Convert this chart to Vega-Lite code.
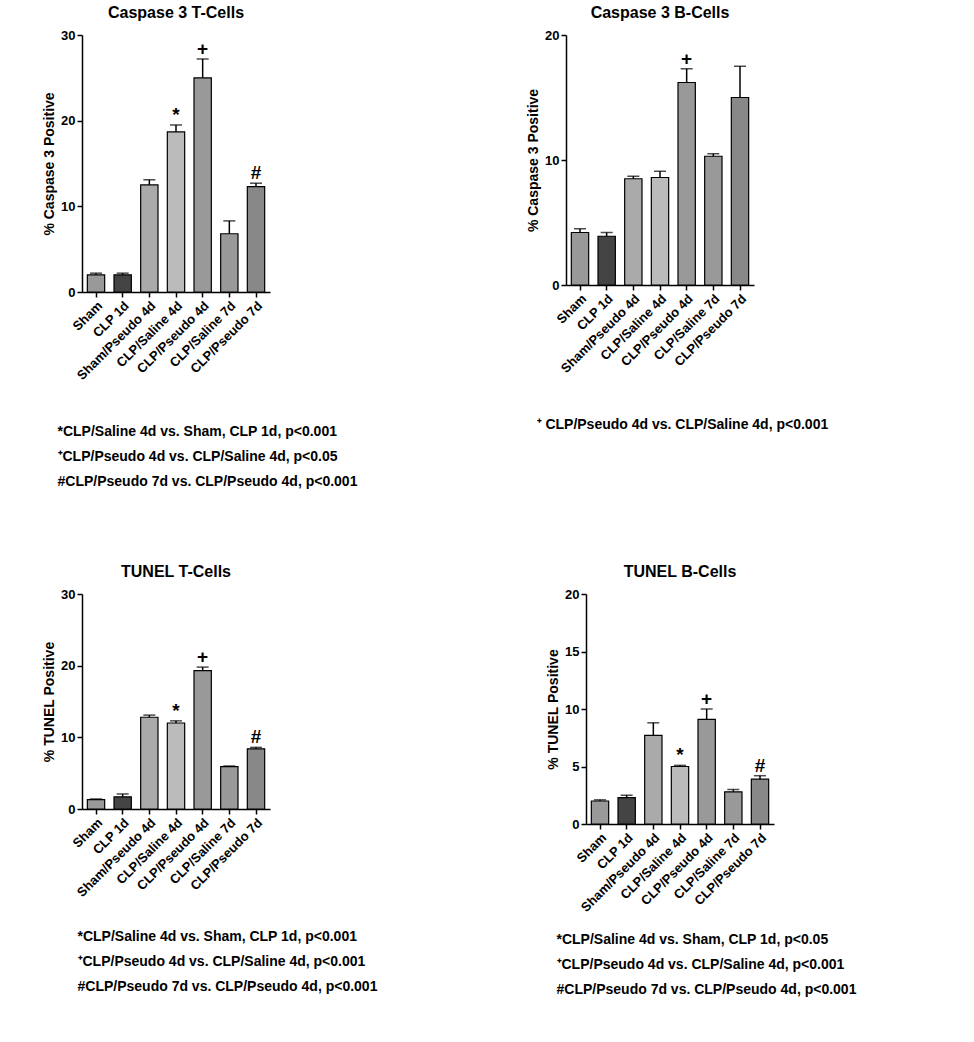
{
"$schema":"https://vega.github.io/schema/vega-lite/v6.json",
"background":"white",
"padding":{"left":42,"top":5,"right":10,"bottom":10},
"config":{"font":"Liberation Sans","view":{"stroke":null},
 "axis":{"labelFont":"Liberation Sans","titleFont":"Liberation Sans","labelFontWeight":"bold","titleFontWeight":"bold","labelColor":"black","titleColor":"black","domainColor":"black","tickColor":"black","grid":false,"labelFontSize":13,"titleFontSize":14,"domainWidth":1.5,"tickWidth":1.5},
 "title":{"font":"Liberation Sans","fontSize":16,"fontWeight":"bold","color":"black","offset":8}},
"data":{"values":[
{"p":"CT","g":"Sham","v":2,"hi":2.2,"s":""},
{"p":"CT","g":"CLP 1d","v":2,"hi":2.2,"s":""},
{"p":"CT","g":"Sham/Pseudo 4d","v":12.5,"hi":13.1,"s":""},
{"p":"CT","g":"CLP/Saline 4d","v":18.7,"hi":19.5,"s":"*"},
{"p":"CT","g":"CLP/Pseudo 4d","v":25,"hi":27.2,"s":"+"},
{"p":"CT","g":"CLP/Saline 7d","v":6.8,"hi":8.3,"s":""},
{"p":"CT","g":"CLP/Pseudo 7d","v":12.3,"hi":12.7,"s":"#"},
{"p":"CB","g":"Sham","v":4.2,"hi":4.5,"s":""},
{"p":"CB","g":"CLP 1d","v":3.9,"hi":4.2,"s":""},
{"p":"CB","g":"Sham/Pseudo 4d","v":8.5,"hi":8.7,"s":""},
{"p":"CB","g":"CLP/Saline 4d","v":8.6,"hi":9.1,"s":""},
{"p":"CB","g":"CLP/Pseudo 4d","v":16.2,"hi":17.3,"s":"+"},
{"p":"CB","g":"CLP/Saline 7d","v":10.3,"hi":10.5,"s":""},
{"p":"CB","g":"CLP/Pseudo 7d","v":15,"hi":17.5,"s":""},
{"p":"TT","g":"Sham","v":1.3,"hi":1.4,"s":""},
{"p":"TT","g":"CLP 1d","v":1.7,"hi":2.1,"s":""},
{"p":"TT","g":"Sham/Pseudo 4d","v":12.8,"hi":13.1,"s":""},
{"p":"TT","g":"CLP/Saline 4d","v":12,"hi":12.3,"s":"*"},
{"p":"TT","g":"CLP/Pseudo 4d","v":19.3,"hi":19.8,"s":"+"},
{"p":"TT","g":"CLP/Saline 7d","v":5.9,"hi":6,"s":""},
{"p":"TT","g":"CLP/Pseudo 7d","v":8.4,"hi":8.6,"s":"#"},
{"p":"TB","g":"Sham","v":2,"hi":2.1,"s":""},
{"p":"TB","g":"CLP 1d","v":2.3,"hi":2.5,"s":""},
{"p":"TB","g":"Sham/Pseudo 4d","v":7.7,"hi":8.8,"s":""},
{"p":"TB","g":"CLP/Saline 4d","v":5,"hi":5.1,"s":"*"},
{"p":"TB","g":"CLP/Pseudo 4d","v":9.1,"hi":10,"s":"+"},
{"p":"TB","g":"CLP/Saline 7d","v":2.8,"hi":3,"s":""},
{"p":"TB","g":"CLP/Pseudo 7d","v":3.9,"hi":4.2,"s":"#"}
]},
"vconcat":[
{"hconcat":[
{"width":188,"height":257,"title":"Caspase 3 T-Cells","transform":[{"filter":"datum.p=='CT'"}],
 "encoding":{"x":{"field":"g","type":"nominal","sort":["Sham","CLP 1d","Sham/Pseudo 4d","CLP/Saline 4d","CLP/Pseudo 4d","CLP/Saline 7d","CLP/Pseudo 7d"],"scale":{"paddingInner":0.35,"paddingOuter":0.2},"axis":{"labelAngle":-45,"titleAnchor":"start","titleAlign":"left","titleX":-25,"titlePadding":42,"titleLineHeight":25,"title":["*CLP/Saline 4d vs. Sham, CLP 1d,  p<0.001","⁺CLP/Pseudo 4d vs. CLP/Saline 4d,  p<0.05","#CLP/Pseudo 7d vs. CLP/Pseudo 4d,  p<0.001"]}}},
 "layer":[
 {"mark":{"type":"bar","stroke":"black","strokeWidth":1.2},"encoding":{"y":{"field":"v","type":"quantitative","scale":{"domain":[0,30]},"axis":{"values":[0,10,20,30],"title":"% Caspase 3 Positive"}},"fill":{"field":"g","type":"nominal","legend":null,"scale":{"domain":["Sham","CLP 1d","Sham/Pseudo 4d","CLP/Saline 4d","CLP/Pseudo 4d","CLP/Saline 7d","CLP/Pseudo 7d"],"range":["#999","#444","#aaa","#bbb","#999","#999","#888"]}}}},
 {"mark":{"type":"rule","strokeWidth":1.5},"encoding":{"y":{"field":"v","type":"quantitative"},"y2":{"field":"hi"}}},
 {"mark":{"type":"tick","size":12,"thickness":1.5,"color":"black"},"encoding":{"y":{"field":"hi","type":"quantitative"}}},
 {"mark":{"type":"text","dy":-10,"fontSize":19,"fontWeight":"bold"},"encoding":{"y":{"field":"hi","type":"quantitative"},"text":{"field":"s"}}}]},
{"width":188,"height":250,"title":"Caspase 3 B-Cells","transform":[{"filter":"datum.p=='CB'"}],
 "encoding":{"x":{"field":"g","type":"nominal","sort":["Sham","CLP 1d","Sham/Pseudo 4d","CLP/Saline 4d","CLP/Pseudo 4d","CLP/Saline 7d","CLP/Pseudo 7d"],"scale":{"paddingInner":0.35,"paddingOuter":0.2},"axis":{"labelAngle":-45,"titleAnchor":"start","titleAlign":"left","titleX":-30,"titlePadding":42,"titleLineHeight":25,"title":["⁺ CLP/Pseudo 4d vs. CLP/Saline 4d,  p<0.001"]}}},
 "layer":[
 {"mark":{"type":"bar","stroke":"black","strokeWidth":1.2},"encoding":{"y":{"field":"v","type":"quantitative","scale":{"domain":[0,20]},"axis":{"values":[0,10,20],"title":"% Caspase 3 Positive"}},"fill":{"field":"g","type":"nominal","legend":null,"scale":{"domain":["Sham","CLP 1d","Sham/Pseudo 4d","CLP/Saline 4d","CLP/Pseudo 4d","CLP/Saline 7d","CLP/Pseudo 7d"],"range":["#999","#444","#aaa","#bbb","#999","#999","#888"]}}}},
 {"mark":{"type":"rule","strokeWidth":1.5},"encoding":{"y":{"field":"v","type":"quantitative"},"y2":{"field":"hi"}}},
 {"mark":{"type":"tick","size":12,"thickness":1.5,"color":"black"},"encoding":{"y":{"field":"hi","type":"quantitative"}}},
 {"mark":{"type":"text","dy":-10,"fontSize":19,"fontWeight":"bold"},"encoding":{"y":{"field":"hi","type":"quantitative"},"text":{"field":"s"}}}]}
],"spacing":165},
{"hconcat":[
{"width":188,"height":215,"title":"TUNEL T-Cells","transform":[{"filter":"datum.p=='TT'"}],
 "encoding":{"x":{"field":"g","type":"nominal","sort":["Sham","CLP 1d","Sham/Pseudo 4d","CLP/Saline 4d","CLP/Pseudo 4d","CLP/Saline 7d","CLP/Pseudo 7d"],"scale":{"paddingInner":0.35,"paddingOuter":0.2},"axis":{"labelAngle":-45,"titleAnchor":"start","titleAlign":"left","titleX":-5,"titlePadding":30,"titleLineHeight":25,"title":["*CLP/Saline 4d vs. Sham, CLP 1d,  p<0.001","⁺CLP/Pseudo 4d vs. CLP/Saline 4d,  p<0.001","#CLP/Pseudo 7d vs. CLP/Pseudo 4d,  p<0.001"]}}},
 "layer":[
 {"mark":{"type":"bar","stroke":"black","strokeWidth":1.2},"encoding":{"y":{"field":"v","type":"quantitative","scale":{"domain":[0,30]},"axis":{"values":[0,10,20,30],"title":"% TUNEL Positive"}},"fill":{"field":"g","type":"nominal","legend":null,"scale":{"domain":["Sham","CLP 1d","Sham/Pseudo 4d","CLP/Saline 4d","CLP/Pseudo 4d","CLP/Saline 7d","CLP/Pseudo 7d"],"range":["#999","#444","#aaa","#bbb","#999","#999","#888"]}}}},
 {"mark":{"type":"rule","strokeWidth":1.5},"encoding":{"y":{"field":"v","type":"quantitative"},"y2":{"field":"hi"}}},
 {"mark":{"type":"tick","size":12,"thickness":1.5,"color":"black"},"encoding":{"y":{"field":"hi","type":"quantitative"}}},
 {"mark":{"type":"text","dy":-10,"fontSize":19,"fontWeight":"bold"},"encoding":{"y":{"field":"hi","type":"quantitative"},"text":{"field":"s"}}}]},
{"width":188,"height":230,"title":"TUNEL B-Cells","transform":[{"filter":"datum.p=='TB'"}],
 "encoding":{"x":{"field":"g","type":"nominal","sort":["Sham","CLP 1d","Sham/Pseudo 4d","CLP/Saline 4d","CLP/Pseudo 4d","CLP/Saline 7d","CLP/Pseudo 7d"],"scale":{"paddingInner":0.35,"paddingOuter":0.2},"axis":{"labelAngle":-45,"titleAnchor":"start","titleAlign":"left","titleX":-30,"titlePadding":18,"titleLineHeight":25,"title":["*CLP/Saline 4d vs. Sham, CLP 1d,  p<0.05","⁺CLP/Pseudo 4d vs. CLP/Saline 4d,  p<0.001","#CLP/Pseudo 7d vs. CLP/Pseudo 4d,  p<0.001"]}}},
 "layer":[
 {"mark":{"type":"bar","stroke":"black","strokeWidth":1.2},"encoding":{"y":{"field":"v","type":"quantitative","scale":{"domain":[0,20]},"axis":{"values":[0,5,10,15,20],"title":"% TUNEL Positive"}},"fill":{"field":"g","type":"nominal","legend":null,"scale":{"domain":["Sham","CLP 1d","Sham/Pseudo 4d","CLP/Saline 4d","CLP/Pseudo 4d","CLP/Saline 7d","CLP/Pseudo 7d"],"range":["#999","#444","#aaa","#bbb","#999","#999","#888"]}}}},
 {"mark":{"type":"rule","strokeWidth":1.5},"encoding":{"y":{"field":"v","type":"quantitative"},"y2":{"field":"hi"}}},
 {"mark":{"type":"tick","size":12,"thickness":1.5,"color":"black"},"encoding":{"y":{"field":"hi","type":"quantitative"}}},
 {"mark":{"type":"text","dy":-10,"fontSize":19,"fontWeight":"bold"},"encoding":{"y":{"field":"hi","type":"quantitative"},"text":{"field":"s"}}}]}
],"spacing":165}
],"spacing":75
}
